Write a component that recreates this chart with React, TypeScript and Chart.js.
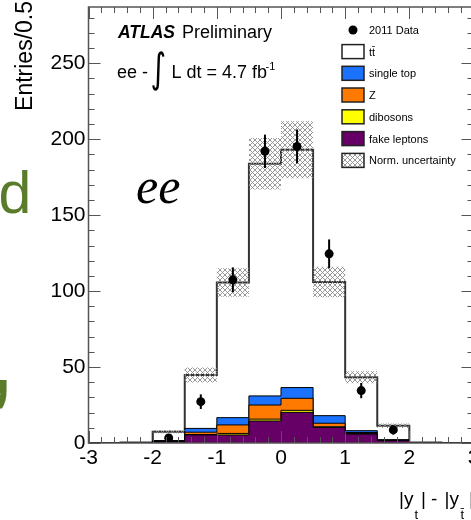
import React, { useEffect, useRef } from 'react';
import { Chart, registerables } from 'chart.js';

Chart.register(...registerables);

// ---------- data ----------
const binEdges = [-3, -2.5, -2, -1.5, -1, -0.5, 0, 0.5, 1, 1.5, 2, 2.5, 3];
const fakeLeptons = [0, 0, 0.9, 5.3, 5.3, 14.5, 20.2, 10.3, 5.9, 1.5, 0, 0];
const dibosons = [0, 0, 0.1, 0.3, 1.0, 1.2, 1.3, 0.4, 0.3, 0.1, 0, 0];
const zJets = [0, 0, 0.3, 1.5, 5.6, 9.3, 7.9, 2.3, 0.7, 0.3, 0, 0];
const singleTop = [0, 0, 0.3, 2.5, 4.8, 6.0, 7.1, 5.0, 1.2, 0.3, 0, 0];
const ttbar = [0, 0.4, 5.8, 35.2, 88.9, 152.8, 156.5, 88.0, 35.2, 9.1, 0.4, 0];
const normUncertainty = [0, 0.1, 1.0, 4.9, 9.4, 17.0, 18.8, 10.0, 4.0, 1.5, 0.1, 0];
const dataX = [-1.75, -1.25, -0.75, -0.25, 0.25, 0.75, 1.25, 1.75];
const dataY = [3.3, 27.2, 107.4, 192.0, 195.2, 124.5, 34.5, 8.6];
const dataErr = [2.5, 4.8, 8.2, 11.0, 11.2, 9.5, 5.0, 3.0];
const legendLabels = ['2011 Data', 'tt\u0304', 'single top', 'Z', 'dibosons', 'fake leptons', 'Norm. uncertainty'];

// ---------- styles ----------
const C_BLUE = '#1a72ff';
const C_ORANGE = '#ff7a00';
const C_YELLOW = '#ffff00';
const C_PURPLE = '#660066';
const legendFills = ['#ffffff', C_BLUE, C_ORANGE, C_YELLOW, C_PURPLE];
const SANS = '"Liberation Sans", Arial, Helvetica, sans-serif';
const CW = 500;
const CH = 520;

const sumArrays = (...arrs: number[][]) => arrs[0].map((_, i) => arrs.reduce((s, a) => s + a[i], 0));
const toSteps = (vals: number[]) => binEdges.map((x, i) => ({ x, y: vals[Math.min(i, vals.length - 1)] }));

const lvl1 = fakeLeptons;
const lvl2 = sumArrays(fakeLeptons, dibosons);
const lvl3 = sumArrays(fakeLeptons, dibosons, zJets);
const lvl4 = sumArrays(fakeLeptons, dibosons, zJets, singleTop);
const total = sumArrays(fakeLeptons, dibosons, zJets, singleTop, ttbar);
const uncHi = total.map((v, i) => v + normUncertainty[i]);
const uncLo = total.map((v, i) => Math.max(v - normUncertainty[i], 0));

function makeHatch(ctx: CanvasRenderingContext2D) {
  const s = 5;
  const c = document.createElement('canvas');
  c.width = s;
  c.height = s;
  const g = c.getContext('2d')!;
  g.strokeStyle = '#8c8c8c';
  g.lineWidth = 0.9;
  g.beginPath();
  g.moveTo(0, 0);
  g.lineTo(s, s);
  g.moveTo(s, 0);
  g.lineTo(0, s);
  g.stroke();
  return ctx.createPattern(c, 'repeat')!;
}

function txt(ctx: CanvasRenderingContext2D, s: string, x: number, y: number, font: string, color = '#000', align: CanvasTextAlign = 'left', baseline: CanvasTextBaseline = 'alphabetic') {
  ctx.font = font;
  ctx.fillStyle = color;
  ctx.textAlign = align;
  ctx.textBaseline = baseline;
  ctx.fillText(s, x, y);
}

export default function App() {
  const ref = useRef<HTMLCanvasElement>(null);

  useEffect(() => {
    const canvas = ref.current!;
    const hatch = makeHatch(canvas.getContext('2d')!);

    const decor = {
      id: 'decor',
      afterDatasetsDraw(chart: any) {
        const { ctx, chartArea: a, scales } = chart;
        const x = scales.x;
        const y = scales.y;
        ctx.save();
        // error bars
        ctx.strokeStyle = '#000';
        ctx.lineWidth = 2;
        dataX.forEach((v, i) => {
          const px = x.getPixelForValue(v);
          ctx.beginPath();
          ctx.moveTo(px, y.getPixelForValue(dataY[i] - dataErr[i]));
          ctx.lineTo(px, y.getPixelForValue(dataY[i] + dataErr[i]));
          ctx.stroke();
        });
        // frame
        ctx.strokeStyle = '#555';
        ctx.lineWidth = 1.5;
        ctx.strokeRect(a.left, a.top, a.right - a.left, a.bottom - a.top);
        // ticks
        ctx.lineWidth = 1;
        ctx.beginPath();
        for (let i = 0; i * 10 <= y.max; i++) {
          const py = Math.round(y.getPixelForValue(i * 10)) + 0.5;
          const len = i % 5 === 0 ? 12 : 6;
          ctx.moveTo(a.left, py);
          ctx.lineTo(a.left + len, py);
          ctx.moveTo(a.right, py);
          ctx.lineTo(a.right - len, py);
        }
        for (let i = -15; i <= 15; i++) {
          const px = Math.round(x.getPixelForValue(i * 0.2)) + 0.5;
          const len = i % 5 === 0 ? 12 : 6;
          ctx.moveTo(px, a.bottom);
          ctx.lineTo(px, a.bottom - len);
          ctx.moveTo(px, a.top);
          ctx.lineTo(px, a.top + len);
        }
        ctx.stroke();
        ctx.restore();
      },
      afterDraw(chart: any) {
        const { ctx } = chart;
        ctx.save();
        // legend
        const rowY = [30, 51.6, 73.3, 95, 116.8, 138.6, 160.4];
        const boxL = 342;
        const boxW = 22;
        const boxH = 14;
        const textX = 369;
        const lf = `11px ${SANS}`;
        ctx.fillStyle = '#000';
        ctx.beginPath();
        ctx.arc(353, rowY[0], 4.5, 0, Math.PI * 2);
        ctx.fill();
        for (let i = 1; i < rowY.length; i++) {
          const top = rowY[i] - boxH / 2;
          ctx.fillStyle = i <= 5 ? legendFills[i - 1] : hatch;
          ctx.fillRect(boxL, top, boxW, boxH);
          ctx.strokeStyle = '#222';
          ctx.lineWidth = 1.5;
          ctx.strokeRect(boxL, top, boxW, boxH);
        }
        legendLabels.forEach((l, i) => txt(ctx, l, textX, rowY[i] + 4, lf));

        // ATLAS label
        txt(ctx, 'ATLAS', 118, 38, `italic bold 17.5px ${SANS}`);
        ctx.font = `italic bold 17.5px ${SANS}`;
        const wA = ctx.measureText('ATLAS').width;
        txt(ctx, 'Preliminary', Math.max(182, 118 + wA + 4), 38, `18px ${SANS}`);
        txt(ctx, 'ee -', 117, 78, `18px ${SANS}`);
        ctx.save();
        ctx.translate(150.5, 82);
        ctx.scale(1, 1.35);
        txt(ctx, '\u222B', 0, 0, `30px "DejaVu Sans", sans-serif`);
        ctx.restore();
        txt(ctx, 'L dt = 4.7 fb', 171.5, 78, `18px ${SANS}`);
        txt(ctx, '-1', 265.5, 70, `11px ${SANS}`);

        // channel label
        txt(ctx, 'ee', 136, 203, `italic 50px "Liberation Serif", "Times New Roman", serif`);

        // y-axis title
        ctx.save();
        ctx.translate(32, 1);
        ctx.rotate(-Math.PI / 2);
        txt(ctx, 'Entries/0.5', 0, 0, `23px ${SANS}`, '#000', 'right');
        ctx.restore();

        // x-axis title
        const mf = `19px ${SANS}`;
        const sf = `13px ${SANS}`;
        txt(ctx, '|y', 399, 505, mf);
        txt(ctx, 't', 414.5, 519, sf);
        txt(ctx, '|', 421, 505, mf);
        txt(ctx, '-', 431, 505, mf);
        txt(ctx, '|y', 444.5, 505, mf);
        txt(ctx, 't\u0304', 460.5, 519, sf);
        txt(ctx, '|', 469, 505, mf);

        // stray slide text
        txt(ctx, 'd', 31.3, 213, `59px ${SANS}`, '#5a7b2a', 'right');
        txt(ctx, ',', -16, 393, `120px ${SANS}`, '#5a7b2a', 'left');
        ctx.restore();
      },
    };

    const line = (vals: number[], extra: any) => ({
      type: 'line',
      data: toSteps(vals),
      stepped: true,
      pointRadius: 0,
      borderColor: '#000',
      borderWidth: 1,
      ...extra,
    });

    const chart = new Chart(canvas, {
      type: 'line',
      data: {
        datasets: [
          {
            label: 'Data',
            data: dataX.map((v, i) => ({ x: v, y: dataY[i] })),
            showLine: false,
            pointRadius: 4.5,
            pointBackgroundColor: '#000',
            pointBorderWidth: 0,
            borderColor: '#000',
          } as any,
          line(uncHi, { label: 'unc hi', fill: '+1', backgroundColor: hatch, borderWidth: 0, borderColor: 'rgba(0,0,0,0)' }),
          line(uncLo, { label: 'unc lo', fill: false, borderWidth: 0, borderColor: 'rgba(0,0,0,0)' }),
          line(lvl1, { label: 'fake leptons', fill: 'origin', backgroundColor: C_PURPLE }),
          line(lvl2, { label: 'dibosons', fill: '-1', backgroundColor: C_YELLOW }),
          line(lvl3, { label: 'Z', fill: '-1', backgroundColor: C_ORANGE }),
          line(lvl4, { label: 'single top', fill: '-1', backgroundColor: C_BLUE }),
          line(total, { label: 'ttbar', fill: '-1', backgroundColor: '#ffffff', borderWidth: 2, borderColor: '#333' }),
        ] as any,
      },
      options: {
        animation: false,
        responsive: false,
        devicePixelRatio: 1,
        events: [],
        layout: { autoPadding: false, padding: { left: 0, top: 7, right: CW - 473.5, bottom: 0 } },
        plugins: { legend: { display: false }, tooltip: { enabled: false } },
        scales: {
          x: {
            type: 'linear',
            min: -3,
            max: 3,
            grid: { display: false, drawTicks: false },
            border: { display: false },
            ticks: { stepSize: 1, color: '#000', font: { family: SANS, size: 21 }, padding: 3, maxRotation: 0, autoSkip: false, includeBounds: false },
            afterFit: (s: any) => { s.height = CH - 443; s.paddingLeft = 0; s.paddingRight = 0; },
          },
          y: {
            type: 'linear',
            min: 0,
            max: 287,
            grid: { display: false, drawTicks: false },
            border: { display: false },
            ticks: { stepSize: 50, color: '#000', font: { family: SANS, size: 21 }, padding: 3, includeBounds: false },
            afterFit: (s: any) => { s.width = 88.5; s.paddingTop = 0; s.paddingBottom = 0; },
          },
        },
      } as any,
      plugins: [decor],
    });
    return () => chart.destroy();
  }, []);

  return (
    <div style={{ position: 'fixed', left: 0, top: 0, width: 471, height: 520, overflow: 'hidden', background: '#fff' }}>
      <canvas ref={ref} width={CW} height={CH} style={{ display: 'block', width: CW, height: CH }} />
    </div>
  );
}
